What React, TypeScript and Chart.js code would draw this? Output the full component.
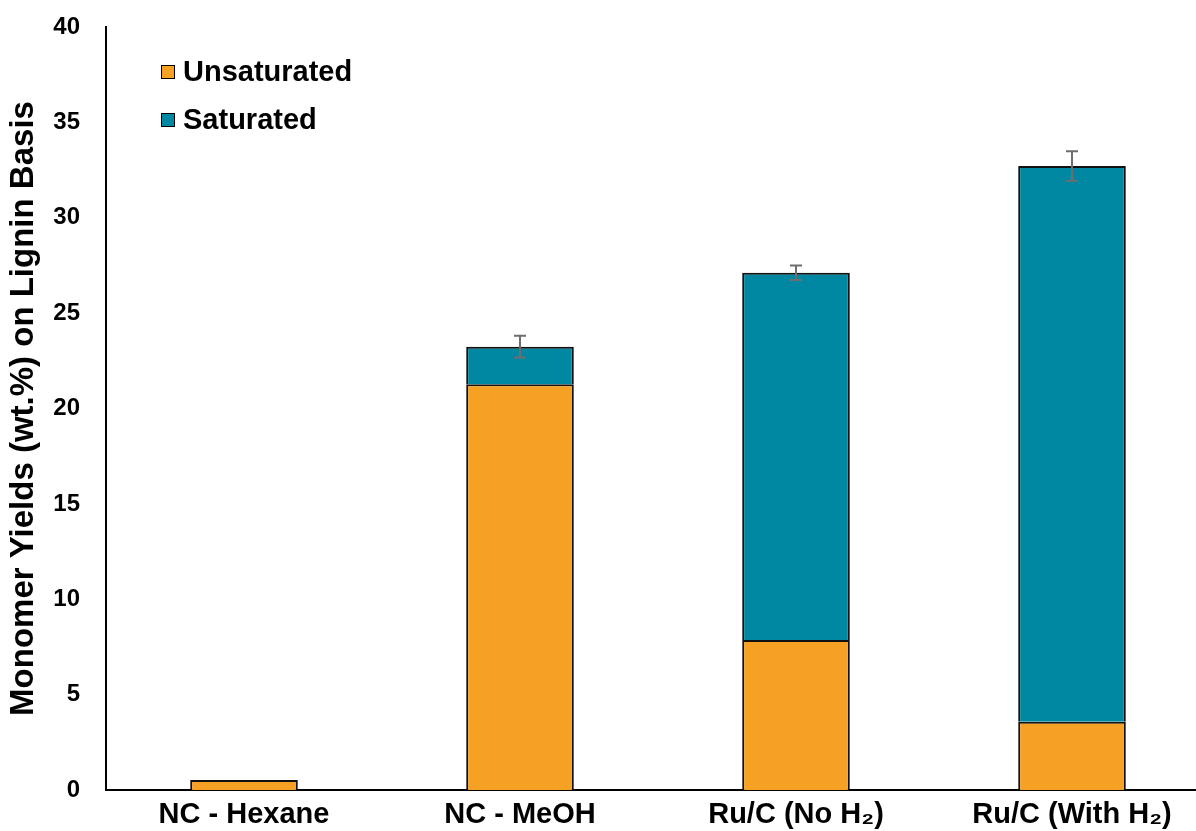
import React, { useEffect, useRef } from "react";
import { Chart, registerables } from "chart.js";

Chart.register(...registerables);

const categories = ["NC - Hexane", "NC - MeOH", "Ru/C (No H₂)", "Ru/C (With H₂)"];
const unsaturated = [0.52, 21.27, 7.86, 3.58];
const saturated = [0, 1.97, 19.26, 29.13];
const totalErrors = [0, 0.57, 0.38, 0.77];
const yTicks = [0, 5, 10, 15, 20, 25, 30, 35, 40];
const seriesNames = ["Unsaturated", "Saturated"];
const seriesColors = ["#F6A124", "#0087A2"];

const SANS = "'Liberation Sans', Arial, sans-serif";

const errorBarPlugin = {
  id: "errorBars",
  afterDatasetsDraw(chart: any) {
    const ctx = chart.ctx;
    const y = chart.scales.y;
    const meta = chart.getDatasetMeta(1);
    ctx.save();
    ctx.strokeStyle = "#6E6E6E";
    ctx.lineWidth = 2;
    categories.forEach((_, i) => {
      const err = totalErrors[i];
      if (!err) return;
      const total = unsaturated[i] + saturated[i];
      const x = meta.data[i].x;
      const yTop = y.getPixelForValue(total + err);
      const yBot = y.getPixelForValue(total - err);
      ctx.beginPath();
      ctx.moveTo(x, yTop);
      ctx.lineTo(x, yBot);
      ctx.moveTo(x - 6, yTop);
      ctx.lineTo(x + 6, yTop);
      ctx.moveTo(x - 6, yBot);
      ctx.lineTo(x + 6, yBot);
      ctx.stroke();
    });
    ctx.restore();
  },
};

const legendPlugin = {
  id: "insideLegend",
  afterDraw(chart: any) {
    const ctx = chart.ctx;
    const area = chart.chartArea;
    ctx.save();
    ctx.font = `bold 29px ${SANS}`;
    ctx.textBaseline = "middle";
    seriesNames.forEach((name, i) => {
      const cy = area.top + 45 + i * 48;
      const bx = area.left + 55;
      ctx.fillStyle = seriesColors[i];
      ctx.fillRect(bx, cy - 7, 14, 14);
      ctx.strokeStyle = "#000";
      ctx.lineWidth = 1;
      ctx.strokeRect(bx + 0.5, cy - 6.5, 13, 13);
      ctx.fillStyle = "#000";
      ctx.fillText(name, bx + 22, cy + 1);
    });
    ctx.restore();
  },
};

export default function App() {
  const ref = useRef<HTMLCanvasElement>(null);
  useEffect(() => {
    document.body.style.margin = "0";
    const chart = new Chart(ref.current!, {
      type: "bar",
      data: {
        labels: categories,
        datasets: [
          {
            label: seriesNames[0],
            data: unsaturated,
            backgroundColor: seriesColors[0],
            borderColor: "#111",
            borderWidth: 2,
            barPercentage: 0.39,
            categoryPercentage: 1,
          },
          {
            label: seriesNames[1],
            data: saturated,
            backgroundColor: seriesColors[1],
            borderColor: "#111",
            borderWidth: 2,
            barPercentage: 0.39,
            categoryPercentage: 1,
          },
        ],
      },
      options: {
        responsive: false,
        animation: false,
        layout: { padding: { left: 0, right: 2, top: 27, bottom: 0 } },
        plugins: { legend: { display: false }, tooltip: { enabled: false } },
        scales: {
          x: {
            stacked: true,
            grid: { display: false, drawTicks: false },
            border: { color: "#000", width: 2 },
            ticks: { color: "#000", padding: 8, font: { family: SANS, size: 29, weight: "bold" } },
            afterFit: (s: any) => {
              s.height = 41;
              s.paddingLeft = 0;
              s.paddingRight = 0;
              s.paddingTop = 0;
              s.paddingBottom = 0;
            },
          },
          y: {
            stacked: true,
            min: 0,
            max: 40,
            afterBuildTicks: (s: any) => { s.ticks = yTicks.map((v) => ({ value: v })); },
            grid: { display: false, drawTicks: false },
            border: { color: "#000", width: 2 },
            ticks: { color: "#000", padding: 26, font: { family: SANS, size: 24, weight: "bold" } },
            title: {
              display: true,
              text: "Monomer Yields (wt.%) on Lignin Basis",
              color: "#000",
              padding: { top: 4, bottom: 0 },
              font: { family: SANS, size: 33, weight: "bold" },
            },
            afterFit: (s: any) => {
              s.width = 106;
              s.paddingTop = 0;
              s.paddingBottom = 0;
              s.paddingLeft = 0;
              s.paddingRight = 0;
            },
          },
        },
      },
      plugins: [errorBarPlugin, legendPlugin],
    });
    return () => chart.destroy();
  }, []);
  return (
    <div style={{ position: "absolute", left: 0, top: 0, width: 1196, height: 831, overflow: "hidden", background: "#fff" }}>
      <canvas ref={ref} width={1212} height={831} style={{ width: 1212, height: 831, display: "block" }} />
    </div>
  );
}
